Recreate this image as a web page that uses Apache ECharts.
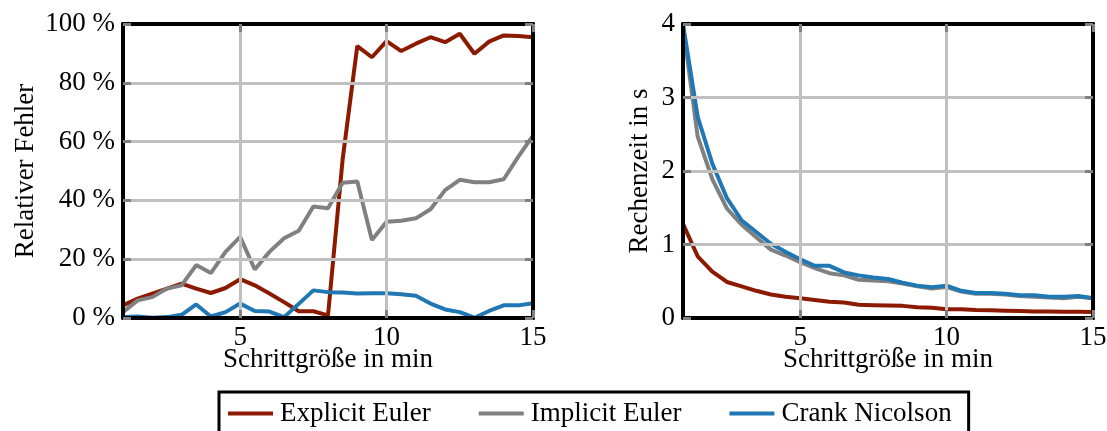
<!DOCTYPE html>
<html>
<head>
<meta charset="utf-8">
<script src="https://cdn.jsdelivr.net/npm/echarts@6/dist/echarts.min.js"></script>
<style>
  html, body { margin: 0; background: #fff; }
  #chart { width: 1107px; height: 431px; }
</style>
</head>
<body>
<div id="chart"></div>
<script>
// Schrittgröße in min
const steps = [1, 1.5, 2, 2.5, 3, 3.5, 4, 4.5, 5, 5.5, 6, 6.5, 7, 7.5, 8,
  8.5, 9, 9.5, 10, 10.5, 11, 11.5, 12, 12.5, 13, 13.5, 14, 14.5, 15]

// relativer Fehler in %
const errExplicit = [4.3, 6.6, 8.3, 10.0, 11.7, 10.0, 8.5, 10.2, 13.2, 11.1, 8.3, 5.4, 2.3, 2.3, 0.9,
  54, 92.5, 88.7, 94.2, 90.8, 93.3, 95.5, 93.8, 96.7, 89.9, 94.0, 96.1, 95.9, 95.5]
const errImplicit = [2.0, 6.0, 7.1, 10.0, 11.1, 18.0, 15.3, 22.5, 27.6, 16.5, 22.5, 27.1, 29.7, 37.9, 37.3,
  46.0, 46.4, 26.5, 32.7, 33.1, 33.9, 37.0, 43.5, 47.0, 46.2, 46.2, 47.2, 54.9, 62.0]
const errCrank = [0.3, 0.5, 0.1, 0.3, 1.1, 4.6, 0.5, 2.0, 4.9, 2.4, 2.2, 0.3, 4.8, 9.4, 8.8,
  8.7, 8.3, 8.4, 8.4, 8.1, 7.6, 4.9, 2.9, 2.0, 0.1, 2.4, 4.3, 4.3, 5.0]

// Rechenzeit in s
const timeExplicit = [1.28, 0.84, 0.63, 0.49, 0.43, 0.37, 0.32, 0.29, 0.27, 0.245, 0.22, 0.21, 0.18, 0.175, 0.17,
  0.165, 0.145, 0.14, 0.12, 0.12, 0.11, 0.105, 0.1, 0.095, 0.09, 0.09, 0.085, 0.085, 0.08]
const timeImplicit = [3.98, 2.47, 1.89, 1.49, 1.27, 1.1, 0.93, 0.85, 0.76, 0.68, 0.61, 0.58, 0.52, 0.51, 0.5,
  0.47, 0.43, 0.4, 0.42, 0.36, 0.33, 0.33, 0.32, 0.3, 0.29, 0.28, 0.27, 0.29, 0.27]
const timeCrank = [4.0, 2.74, 2.1, 1.63, 1.33, 1.17, 1.01, 0.9, 0.8, 0.71, 0.71, 0.62, 0.58, 0.55, 0.53,
  0.48, 0.44, 0.42, 0.44, 0.37, 0.34, 0.34, 0.33, 0.31, 0.31, 0.29, 0.29, 0.3, 0.27]

const xTicks = [5, 10, 15]
const names = ['Explicit Euler', 'Implicit Euler', 'Crank Nicolson']
const colors = ['#8c1a00', '#808080', '#1f77b4']

const font = 'Liberation Serif'
const fs = 27

const chart = echarts.init(document.getElementById('chart'))

const pair = (ys) => steps.map((x, i) => [x, ys[i]])

function xAxis(grid, top) {
  return {
    type: 'value', gridIndex: grid, position: top ? 'top' : 'bottom',
    min: 1, max: 15,
    name: top ? '' : 'Schrittgröße in min',
    nameLocation: 'middle', nameGap: 28, nameMoveOverlap: false,
    nameTextStyle: { fontFamily: font, fontSize: fs, color: '#000' },
    axisLine: { show: true, onZero: false, lineStyle: { color: '#000', width: 4 } },
    axisTick: { show: true, inside: true, length: 8, customValues: xTicks, lineStyle: { color: '#808080', width: 3 } },
    axisLabel: { show: !top, customValues: xTicks, margin: 6, fontFamily: font, fontSize: fs, color: '#000' },
    splitLine: { show: !top, lineStyle: { color: '#c0c0c0', width: 3 } },
    z: 3,
  }
}

function yAxis(grid, right, max, interval, fmt, name, gap) {
  return {
    type: 'value', gridIndex: grid, position: right ? 'right' : 'left',
    min: 0, max: max, interval: interval,
    name: right ? '' : name,
    nameLocation: 'middle', nameGap: gap, nameMoveOverlap: false,
    nameTextStyle: { fontFamily: font, fontSize: fs, color: '#000' },
    axisLine: { show: true, onZero: false, lineStyle: { color: '#000', width: 4 } },
    axisTick: { show: true, inside: true, length: 8, lineStyle: { color: '#808080', width: 3 } },
    axisLabel: { show: !right, formatter: fmt, margin: 8, fontFamily: font, fontSize: fs, color: '#000' },
    splitLine: { show: !right, lineStyle: { color: '#c0c0c0', width: 3 } },
    z: 3,
  }
}

function line(name, data, color, xi, yi) {
  return {
    name: name, type: 'line', data: data,
    xAxisIndex: xi, yAxisIndex: yi,
    showSymbol: false, symbol: 'none',
    lineStyle: { color: color, width: 4 },
    itemStyle: { color: color },
    z: 2,
    animation: false,
  }
}

const option = {
  animation: false,
  grid: [
    { left: 123, top: 24, width: 410, height: 294, outerBoundsMode: 'none' },
    { left: 683, top: 24, width: 410, height: 294, outerBoundsMode: 'none' },
  ],
  xAxis: [xAxis(0, false), xAxis(0, true), xAxis(1, false), xAxis(1, true)],
  yAxis: [
    yAxis(0, false, 100, 20, '{value} %', 'Relativer Fehler', 84),
    yAxis(0, true, 100, 20),
    yAxis(1, false, 4, 1, '{value}', 'Rechenzeit in s', 30),
    yAxis(1, true, 4, 1),
  ],
  legend: {
    data: names,
    left: 219, top: 392,
    orient: 'horizontal',
    icon: 'rect', itemWidth: 45, itemHeight: 4, itemGap: 48,
    padding: [8, 17, 10, 9],
    borderColor: '#000', borderWidth: 3, borderRadius: 0,
    textStyle: { fontFamily: font, fontSize: fs, color: '#000', padding: [0, 0, 0, 2] },
  },
  series: [
    line(names[0], pair(errExplicit), colors[0], 0, 0),
    line(names[1], pair(errImplicit), colors[1], 0, 0),
    line(names[2], pair(errCrank), colors[2], 0, 0),
    line(names[0], pair(timeExplicit), colors[0], 2, 2),
    line(names[1], pair(timeImplicit), colors[1], 2, 2),
    line(names[2], pair(timeCrank), colors[2], 2, 2),
  ],
}

chart.setOption(option)
</script>
</body>
</html>
